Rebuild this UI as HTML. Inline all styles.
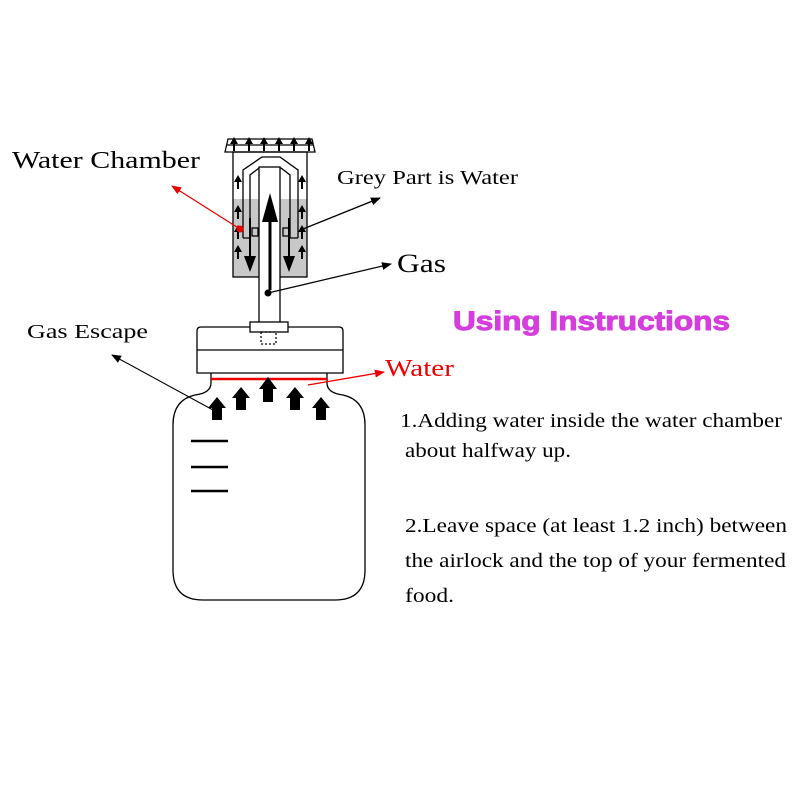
<!DOCTYPE html>
<html><head><meta charset="utf-8"><style>body{margin:0;background:#fff}svg{display:block}</style></head><body>
<svg width="800" height="800" viewBox="0 0 800 800" xmlns="http://www.w3.org/2000/svg">
<defs>
<marker id="ab" markerWidth="10" markerHeight="8" refX="9" refY="4" orient="auto" markerUnits="userSpaceOnUse"><path d="M0,0 L10,4 L0,8 Z" fill="#000"/></marker>
<marker id="ar" markerWidth="10" markerHeight="8" refX="9" refY="4" orient="auto" markerUnits="userSpaceOnUse"><path d="M0,0 L10,4 L0,8 Z" fill="#e00"/></marker>
</defs>
<g fill="none" stroke="#000" stroke-width="1.3">
<rect x="233" y="199" width="74" height="78" fill="#c8c8c8" stroke="none"/>
<path d="M225,152 L228,139 L312,139 L315,152 Z" fill="#fff"/>
<line x1="227" y1="145" x2="313" y2="145"/>
<rect x="233" y="152" width="74" height="125"/>
<path d="M243,238 L243,170 L262,157 L280,157 L298,170 L298,238" />
<path d="M250,238 L250,175 L259,168 L281,168 L290,175 L290,238"/>
<path d="M250,238 L243,238 M290,238 L298,238"/>
<rect x="252" y="228" width="6" height="8"/><rect x="283" y="228" width="6" height="8"/>
<rect x="259" y="167" width="21" height="156" fill="#fff"/>
<path d="M197,373 L197,331 Q197,327 201,327 L339,327 Q343,327 343,331 L343,373 Z" fill="#fff"/>
<line x1="197" y1="350" x2="343" y2="350"/>
<rect x="250" y="322" width="38" height="10" fill="#fff"/>
<rect x="261" y="332" width="15" height="12" stroke-dasharray="2,2"/>
<path d="M211,373 L211,383 Q211,393 195,395 Q173,400 173,425 L173,570 Q173,600 203,600 L335,600 Q365,600 365,570 L365,425 Q365,400 343,395 Q327,393 327,383 L327,373"/>
<g stroke-width="2.5"><line x1="191" y1="441" x2="228" y2="441"/><line x1="191" y1="467" x2="228" y2="467"/><line x1="191" y1="491" x2="228" y2="491"/></g>
</g>
<line x1="211" y1="379" x2="327" y2="379" stroke="#e00" stroke-width="2.5"/>
<g fill="#000">
<path d="M212,420 L212,408 L208,408 L217,397 L226,408 L222,408 L222,420Z"/>
<path d="M236,410 L236,398 L232,398 L241,387 L250,398 L246,398 L246,410Z"/>
<path d="M263,402 L263,389 L259,389 L268,377 L277,389 L273,389 L273,402Z"/>
<path d="M290,410 L290,398 L286,398 L295,387 L304,398 L300,398 L300,410Z"/>
<path d="M316,420 L316,408 L312,408 L321,397 L330,408 L326,408 L326,420Z"/>
<rect x="268.5" y="220" width="3" height="70"/>
<path d="M262,222 L270,193 L278,222Z"/>
<rect x="249" y="218" width="2" height="40"/><path d="M244,256 L250,272 L256,256Z"/>
<rect x="288" y="218" width="2" height="40"/><path d="M283,256 L289,272 L295,256Z"/>
<g id="sa"><rect x="237" y="181" width="2" height="8"/><path d="M234,182 L238,175 L242,182Z"/></g>
<use href="#sa" y="30"/><use href="#sa" y="50"/><use href="#sa" y="70"/>
<use href="#sa" x="64"/><use href="#sa" x="64" y="30"/><use href="#sa" x="64" y="50"/><use href="#sa" x="64" y="70"/>
<g id="ta"><rect x="233" y="142" width="2" height="9"/><path d="M230,144 L234,137 L238,144Z"/></g>
<use href="#ta" x="15"/><use href="#ta" x="30"/><use href="#ta" x="45"/><use href="#ta" x="60"/><use href="#ta" x="75"/>
<circle cx="268" cy="293" r="3.5"/>
</g>
<circle cx="240" cy="229" r="3.5" fill="#e00"/>
<line x1="240" y1="229" x2="172" y2="186" stroke="#e00" stroke-width="1.3" marker-end="url(#ar)"/>
<line x1="303" y1="229" x2="380" y2="198" stroke="#000" stroke-width="1.3" marker-end="url(#ab)"/>
<line x1="268" y1="293" x2="391" y2="264" stroke="#000" stroke-width="1.3" marker-end="url(#ab)"/>
<line x1="213" y1="410" x2="112" y2="355" stroke="#000" stroke-width="1.1" marker-end="url(#ab)"/>
<line x1="308" y1="385" x2="384" y2="372" stroke="#e00" stroke-width="1.3" marker-end="url(#ar)"/>
<g font-family="Liberation Serif, serif" fill="#000" lengthAdjust="spacingAndGlyphs">
<text x="12" y="168" font-size="24" textLength="188" lengthAdjust="spacingAndGlyphs">Water Chamber</text>
<text x="337" y="184" font-size="20" textLength="181" lengthAdjust="spacingAndGlyphs">Grey Part is Water</text>
<text x="397" y="272" font-size="26" textLength="49" lengthAdjust="spacingAndGlyphs">Gas</text>
<text x="27" y="338" font-size="20" textLength="121" lengthAdjust="spacingAndGlyphs">Gas Escape</text>
<text x="385" y="376" font-size="24" fill="#e00" textLength="69" lengthAdjust="spacingAndGlyphs">Water</text>
<text x="400" y="427" font-size="20" textLength="382" lengthAdjust="spacingAndGlyphs">1.Adding water inside the water chamber</text>
<text x="405" y="457" font-size="20" textLength="166" lengthAdjust="spacingAndGlyphs">about halfway up.</text>
<text x="405" y="532" font-size="20" textLength="382" lengthAdjust="spacingAndGlyphs">2.Leave space (at least 1.2 inch) between</text>
<text x="405" y="567" font-size="20" textLength="381" lengthAdjust="spacingAndGlyphs">the airlock and the top of your fermented</text>
<text x="405" y="602" font-size="20" textLength="49" lengthAdjust="spacingAndGlyphs">food.</text>
</g>
<text x="453" y="330" font-family="Liberation Sans, sans-serif" font-weight="bold" font-size="27" fill="#d63ddd" stroke="#d63ddd" stroke-width="1" textLength="277" lengthAdjust="spacingAndGlyphs">Using Instructions</text>
</svg>
</body></html>
